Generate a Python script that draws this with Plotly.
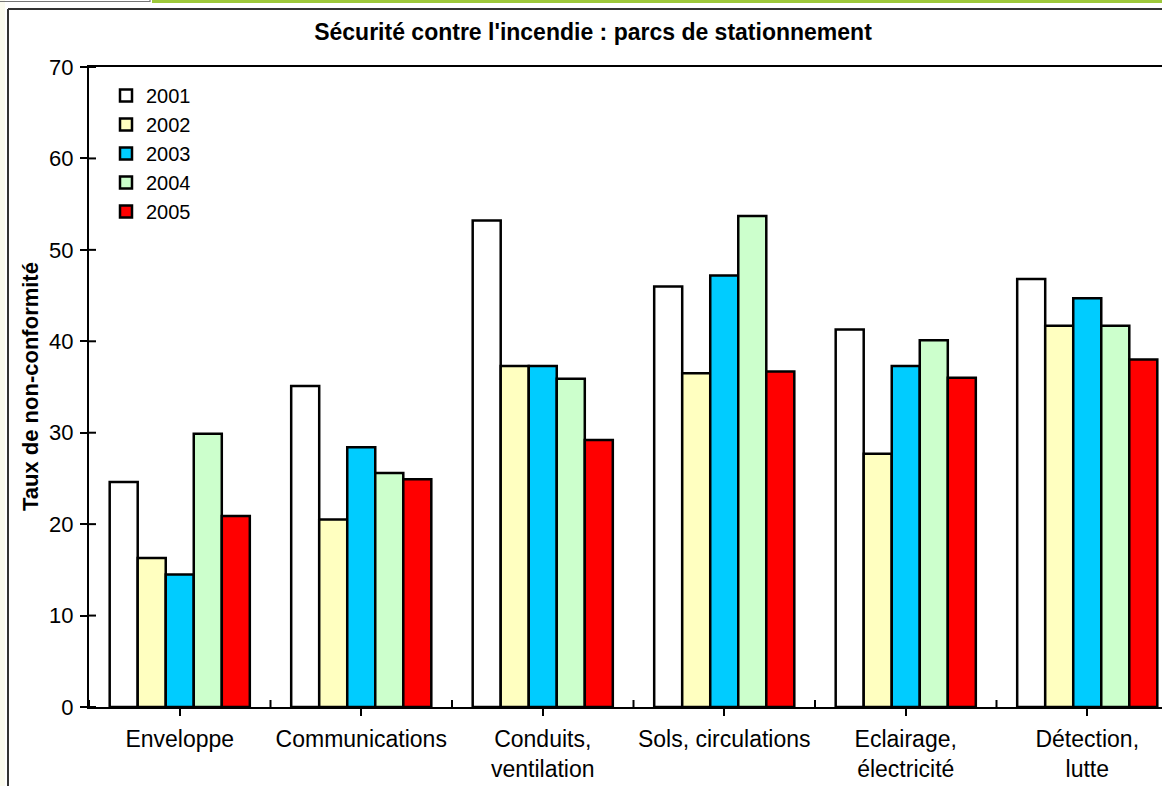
import plotly.graph_objects as go

categories = ["Enveloppe", "Communications", "Conduits,<br>ventilation",
              "Sols, circulations", "Eclairage,<br>électricité", "Détection,<br>lutte"]
years = ["2001", "2002", "2003", "2004", "2005"]
v2001 = [24.6, 35.1, 53.2, 46.0, 41.3, 46.8]
v2002 = [16.3, 20.5, 37.3, 36.5, 27.7, 41.7]
v2003 = [14.5, 28.4, 37.3, 47.2, 37.3, 44.7]
v2004 = [29.9, 25.6, 35.9, 53.7, 40.1, 41.7]
v2005 = [20.9, 24.9, 29.2, 36.7, 36.0, 38.0]
series = [v2001, v2002, v2003, v2004, v2005]
colors = ["#FFFFFF", "#FFFFC0", "#00CCFF", "#CCFFCC", "#FF0000"]
yticks = [0, 10, 20, 30, 40, 50, 60, 70]

W, H = 1162, 786
L, R, T, B = 89, 0, 67, 79
PW, PH = W - L - R, H - T - B
FONT = "Liberation Sans, Arial, sans-serif"

fig = go.Figure()
for name, vals, col in zip(years, series, colors):
    fig.add_trace(go.Bar(x=list(range(len(categories))), y=vals, name=name,
                         marker=dict(color=col, line=dict(color="black", width=2.5))))

# category span 181.5 px -> visible range
span = PW / 181.5
fig.update_layout(
    width=W, height=H,
    margin=dict(l=L, r=R, t=T, b=B, autoexpand=False),
    paper_bgcolor="white", plot_bgcolor="white",
    barmode="group", bargap=0.228, bargroupgap=0,
    font=dict(family=FONT, color="black"),
    title=dict(text="<b>Sécurité contre l'incendie : parcs de stationnement</b>",
               x=593 / W, xanchor="center", xref="container",
               y=1 - 32 / H, yanchor="middle", yref="container",
               font=dict(size=23, family=FONT, color="black")),
    xaxis=dict(tickmode="array", tickvals=list(range(len(categories))), ticktext=categories,
               range=[-0.5, -0.5 + span], tickson="boundaries",
               ticks="outside", ticklen=7, tickwidth=2, tickcolor="black",
               showline=True, linecolor="black", linewidth=2, mirror=True,
               showgrid=False, zeroline=False, fixedrange=True,
               tickfont=dict(size=23, family=FONT, color="black"),
               ticklabelstandoff=3),
    yaxis=dict(range=[0, 70], tickvals=yticks, ticks="outside", ticklen=7,
               tickwidth=2, tickcolor="black",
               showline=True, linecolor="black", linewidth=2,
               showgrid=False, zeroline=False, fixedrange=True,
               tickfont=dict(size=22, family=FONT, color="black"),
               ticklabelstandoff=2),
    legend=dict(x=106 / W, xref="container", xanchor="left",
                y=1 - 76 / H, yref="container", yanchor="top",
                bgcolor="rgba(0,0,0,0)", borderwidth=0,
                font=dict(size=20, family=FONT, color="black"),
                itemclick=False, itemdoubleclick=False),
    showlegend=True,
)

# y-axis title
fig.add_annotation(text="<b>Taux de non-conformité</b>", textangle=-90,
                   xref="paper", x=(30 - L) / PW, xanchor="center",
                   yref="paper", y=0.5, yanchor="middle", showarrow=False,
                   font=dict(size=22, family=FONT, color="black"))

shapes = []
# inner halves of crossing ticks
for v in yticks:
    shapes.append(dict(type="line", xref="paper", x0=0, x1=7 / PW, yref="y", y0=v, y1=v,
                       line=dict(color="black", width=2)))
for i in range(len(categories)):
    shapes.append(dict(type="line", xref="x", x0=i - 0.5, x1=i - 0.5, yref="paper", y0=0, y1=7 / PH,
                       line=dict(color="black", width=2)))

def px(xp):
    return (xp - L) / PW

def py(yp):
    return 1 - (yp - T) / PH

# page decoration: left strip, tab, green bar, frame
shapes += [
    dict(type="rect", xref="paper", yref="paper", x0=px(0), x1=px(5), y0=py(H), y1=py(0),
         fillcolor="#FBFBEE", line=dict(width=0), layer="below"),
    dict(type="line", xref="paper", yref="paper", x0=px(0), x1=px(150), y0=py(1.5), y1=py(1.5),
         line=dict(color="#777777", width=1.2)),
    dict(type="line", xref="paper", yref="paper", x0=px(150), x1=px(150), y0=py(0), y1=py(2),
         line=dict(color="#777777", width=1.2)),
    dict(type="rect", xref="paper", yref="paper", x0=px(152), x1=px(W), y0=py(3), y1=py(0),
         fillcolor="#9DC83A", line=dict(width=0)),
    dict(type="line", xref="paper", yref="paper", x0=px(8), x1=px(W), y0=py(9), y1=py(9),
         line=dict(color="#333333", width=2)),
    dict(type="line", xref="paper", yref="paper", x0=px(8), x1=px(8), y0=py(9), y1=py(H),
         line=dict(color="#333333", width=2)),
]
fig.update_layout(shapes=shapes)

fig.write_html("out.html", config={"displayModeBar": False},
               post_script="document.body.style.margin='0';document.body.style.overflow='hidden';")
